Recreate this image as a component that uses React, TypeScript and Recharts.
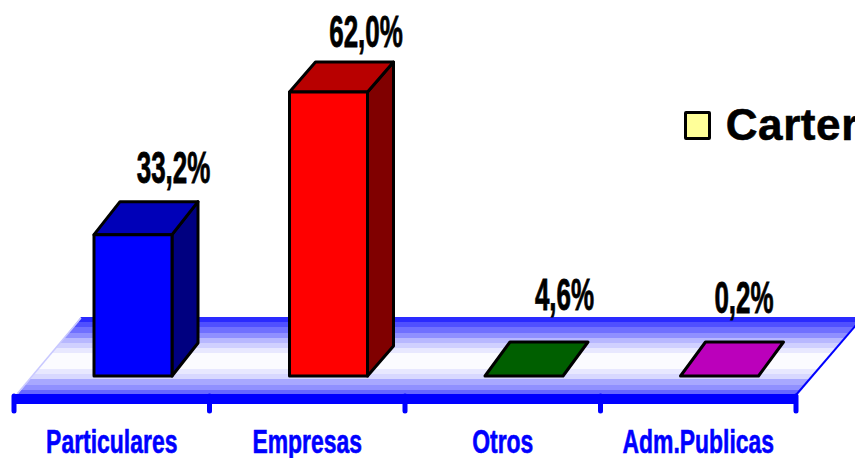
import { BarChart, Bar, XAxis, YAxis, Legend, LabelList, Customized } from 'recharts';

const categories = ['Particulares', 'Empresas', 'Otros', 'Adm.Publicas'];
const cartera = [33.2, 62.0, 4.6, 0.2];
const valueLabels = ['33,2%', '62,0%', '4,6%', '0,2%'];

const frontColors = ['#0000ff', '#ff0000', '#005f00', '#bb00bb'];
const topColors = ['#0000b8', '#b80000', '#005f00', '#bb00bb'];
const sideColors = ['#000080', '#800000', '#005f00', '#bb00bb'];
const floorStripes = [
  '#2a2aff', '#5050ff', '#7070ff', '#9090ff', '#b8b8ff', '#d0d0ff', '#e8e8ff',
  '#fbfbff', '#fbfbff', '#fbfbff', '#e8e8ff', '#d8d8ff', '#a8a8ff', '#9090ff', '#6868ff',
];

const WIDTH = 855;
const HEIGHT = 458;
const PLOT_LEFT = 14;
const PLOT_RIGHT = 796;
const AXIS_Y = 399;
const FLOOR_Y = 376; // bars stand on the floor, above the zero line
const BAND = (PLOT_RIGHT - PLOT_LEFT) / categories.length;
const BAR_SHIFT = 21;
const depthX = [26, 26, 25, 25];
const depthY = [33, 30, 34, 34];
const labelNudge = [
  { dx: 40.5, dy: -19 },
  { dx: 37.5, dy: -15 },
  { dx: 40.5, dy: -32 },
  { dx: 24.5, dy: -29 },
];

const chartData = categories.map((name, i) => ({ name, value: cartera[i], label: valueLabels[i] }));

const pts = (list: number[][]) => list.map((p) => p.join(',')).join(' ');

const Floor = () => (
  <g>
    <defs>
      <linearGradient id="floorBands" x1="0" y1="0" x2="0" y2="1">
        {floorStripes.flatMap((c, i) => [
          <stop key={`a${i}`} offset={i / floorStripes.length} stopColor={c} />,
          <stop key={`b${i}`} offset={(i + 1) / floorStripes.length} stopColor={c} />,
        ])}
      </linearGradient>
    </defs>
    <polygon points={pts([[81, 317], [862, 317], [796, 395], [17, 395]])} fill="url(#floorBands)" />
    <line x1={17} y1={394} x2={81} y2={318} stroke="#c8c8ff" strokeWidth={1.5} />
    <line x1={796} y1={395} x2={862} y2={318} stroke="#0000ff" strokeWidth={2} />
  </g>
);

const Bar3D = (props: any) => {
  const { x, y, width, index } = props;
  const left = x + BAR_SHIFT;
  const right = left + width;
  const top = Math.min(y, FLOOR_Y);
  const line = { stroke: '#000', strokeWidth: 3, strokeLinejoin: 'round' as const };
  const dx = depthX[index];
  const dy = depthY[index];
  return (
    <g>
      {top < FLOOR_Y && (
        <polygon
          points={pts([[right, top], [right + dx, top - dy], [right + dx, FLOOR_Y - dy], [right, FLOOR_Y]])}
          fill={sideColors[index]}
          {...line}
        />
      )}
      <polygon
        points={pts([[left, top], [left + dx, top - dy], [right + dx, top - dy], [right, top]])}
        fill={topColors[index]}
        {...line}
      />
      {top < FLOOR_Y && (
        <rect x={left} y={top} width={width} height={FLOOR_Y - top} fill={frontColors[index]} {...line} />
      )}
    </g>
  );
};

const ValueLabel = (props: any) => {
  const { x, y, width, index, value } = props;
  const n = labelNudge[index];
  const cx = x + BAR_SHIFT + width / 2 + n.dx;
  const by = Math.min(y, FLOOR_Y) - depthY[index] + n.dy;
  return (
    <text
      transform={`translate(${cx},${by}) scale(0.59,1)`}
      textAnchor="middle"
      fontFamily="'Liberation Sans'"
      fontWeight="bold"
      fontSize={44}
      fill="#000"
      stroke="#000"
      strokeWidth={0.8}
    >
      {value}
    </text>
  );
};

const CategoryTick = (props: any) => {
  const { x, y, index, payload } = props;
  const mark = (mx: number) => (
    <line x1={mx} y1={y - 3} x2={mx} y2={y + 12} stroke="#0000ff" strokeWidth={5} strokeLinecap="round" />
  );
  return (
    <g>
      {mark(x - BAND / 2)}
      {index === categories.length - 1 && mark(x + BAND / 2)}
      <text
        transform={`translate(${x},${y + 54}) scale(0.695,1)`}
        textAnchor="middle"
        fontFamily="'Liberation Sans'"
        fontWeight="bold"
        fontSize={33}
        fill="#0000ff"
        stroke="#0000ff"
        strokeWidth={0.6}
      >
        {payload.value}
      </text>
    </g>
  );
};

const CarteraLegend = () => (
  <div style={{ display: 'flex', alignItems: 'center', whiteSpace: 'nowrap', fontFamily: "'Liberation Sans'", fontWeight: 'bold', fontSize: 44, lineHeight: '50px', color: '#000', letterSpacing: 0.6, WebkitTextStroke: '0.6px #000' }}>
    <span style={{ display: 'inline-block', boxSizing: 'border-box', width: 29, height: 29, background: '#ffff99', border: '3px solid #000', marginRight: 15, borderRadius: 2 }} />
    Cartera
  </div>
);

export default function App() {
  return (
    <div style={{ position: 'absolute', left: 0, top: 0, width: WIDTH, height: HEIGHT, overflow: 'hidden', background: '#fff' }}>
      <BarChart
        width={WIDTH}
        height={HEIGHT}
        data={chartData}
        barSize={78}
        margin={{ top: 0, right: WIDTH - PLOT_RIGHT, bottom: 0, left: PLOT_LEFT }}
      >
        <Customized component={Floor} />
        <XAxis
          dataKey="name"
          height={HEIGHT - AXIS_Y}
          axisLine={{ stroke: '#0000ff', strokeWidth: 10 }}
          tickLine={false}
          tickSize={0}
          tickMargin={0}
          interval={0}
          tick={<CategoryTick />}
        />
        <YAxis hide domain={[0, 80.6]} />
        <Legend
          layout="horizontal"
          align="center"
          verticalAlign="middle"
          content={<CarteraLegend />}
          wrapperStyle={{ left: 684, top: 100, width: 200, bottom: 'auto', right: 'auto' }}
        />
        <Bar dataKey="value" name="Cartera" isAnimationActive={false} shape={<Bar3D />}>
          <LabelList dataKey="label" content={<ValueLabel />} />
        </Bar>
      </BarChart>
    </div>
  );
}
